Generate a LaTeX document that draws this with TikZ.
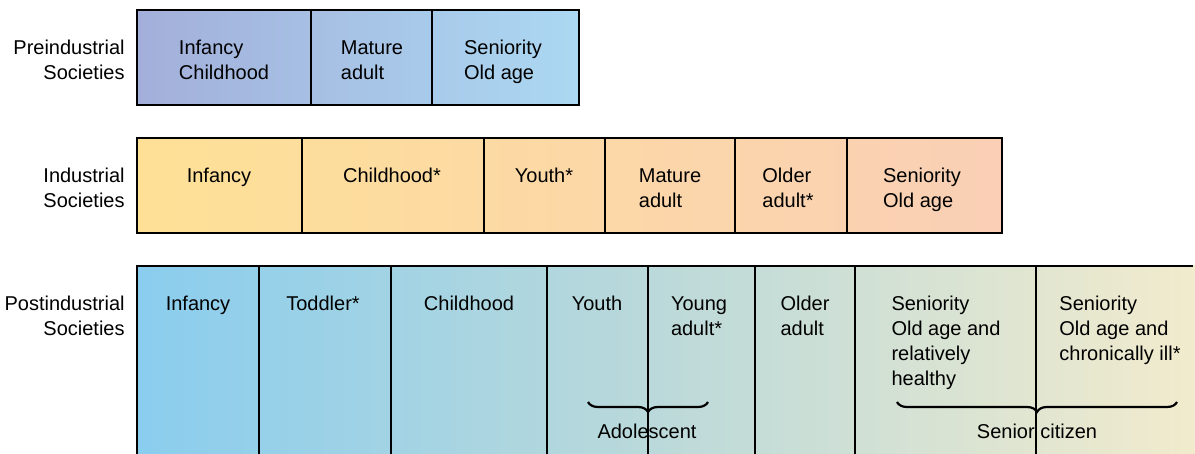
\documentclass[tikz,border=0pt]{standalone}
\usepackage{fontspec}
\setmainfont{Liberation Sans}
\usepackage{xcolor}
\usepackage{tikz}
\usetikzlibrary{decorations.pathreplacing}

\definecolor{preL}{RGB}{163,175,218}
\definecolor{preR}{RGB}{171,216,242}
\definecolor{indL}{RGB}{254,225,150}
\definecolor{indR}{RGB}{250,207,182}
\definecolor{postL}{RGB}{138,205,238}
\definecolor{postM}{RGB}{186,217,218}
\definecolor{postR}{RGB}{242,235,205}

\tikzset{
  cell/.style={anchor=north, align=left, inner sep=0pt,
    font=\fontsize{10}{12.5}\selectfont},
  rowlabel/.style={anchor=north east, align=right, inner sep=0pt,
    font=\fontsize{10}{12.5}\selectfont},
  cellline/.style={line width=1pt},
  thinline/.style={line width=0.6pt},
  groupbrace/.style={line width=1.1pt, decorate,
    decoration={brace, mirror, amplitude=5pt}}
}

\begin{document}
\begin{tikzpicture}[x=0.5pt, y=-0.5pt]
                  \useasboundingbox (0,0) rectangle (1195,454);
                  \shade[left color=preL, right color=preR] (137,10) rectangle (579,105);
                  \shade[left color=indL, right color=indR] (137,138) rectangle (1002,233);
                  \shade[left color=postL, right color=postM] (137,266) rectangle (648,454);
                  \shade[left color=postM, right color=postR] (648,266) rectangle (1195,454);
                  \draw[cellline] (137,10) rectangle (579,105);
                  \foreach \x in {311,432}
                  \draw[cellline] (\x,10) -- (\x,105);
                  \draw[cellline] (137,138) rectangle (1002,233);
                  \foreach \x in {302,484,605,735,847}
                  \draw[cellline] (\x,138) -- (\x,233);
                  \draw[cellline] (137,454) -- (137,266) -- (1193,266);
                  \foreach \x in {259,391,547,755,855}
                  \draw[cellline] (\x,266) -- (\x,454);
                  \foreach \x in {648,1036}
                  \draw[thinline] (\x,266) -- (\x,454);
                  \node[rowlabel] (lblpre) at (125,40) {Preindustrial\\Societies};
                  \node[rowlabel] (lblind) at (125,168) {Industrial\\Societies};
                  \node[rowlabel] (lblpost) at (125,296) {Postindustrial\\Societies};
                  \foreach \x/\t [count=\i] in {224/{Infancy\\Childhood},
                      372/{Mature\\adult}, 503/{Seniority\\Old age}}
                  \node[cell] (pre\i) at (\x,40) {\t};
                  \foreach \x/\t [count=\i] in {219/{Infancy}, 392/{Childhood*},
                      544/{Youth*}, 670/{Mature\\adult}, 788/{Older\\adult*},
                      922/{Seniority\\Old age}}
                  \node[cell] (ind\i) at (\x,168) {\t};
                  \foreach \x/\t [count=\i] in {198/{Infancy}, 323/{Toddler*},
                      469/{Childhood}, 597/{Youth}, 699/{Young\\adult*},
                      805/{Older\\adult},
                      946/{Seniority\\Old age and\\relatively\\healthy},
                      1120/{Seniority\\Old age and\\chronically ill*}}
                  \node[cell] (post\i) at (\x,296) {\t};
                  \coordinate (adolL) at (588,402);
                  \coordinate (adolR) at (708,402);
                  \coordinate (seniorL) at (897,402);
                  \coordinate (seniorR) at (1177,402);
                  \draw[groupbrace] (adolL) -- (adolR);
                  \draw[groupbrace] (seniorL) -- (seniorR);
                  \node[cell] (adol) at (647,424) {Adolescent};
                  \node[cell] (senior) at (1037,424) {Senior citizen};
              \end{tikzpicture}
\end{document}
